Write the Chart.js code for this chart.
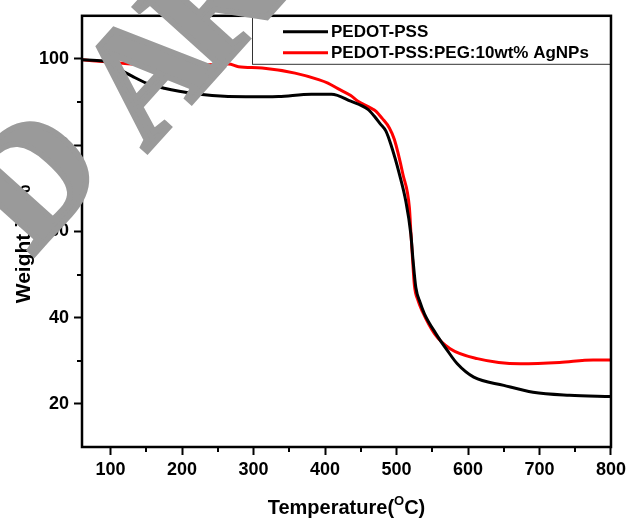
<!DOCTYPE html>
<html>
<head>
<meta charset="utf-8">
<script src="https://cdn.jsdelivr.net/npm/chart.js@4.4.0/dist/chart.umd.min.js"></script>
<style>
    html, body { margin: 0; padding: 0; background: #fff; }
</style>
</head>
<body>
<canvas id="myChart" width="630" height="522"></canvas>
<script>
// TGA curves
var pedotTemp = [60, 90, 113, 130, 150, 175, 196, 242, 289, 335, 381, 409, 436, 460, 469, 477, 485, 492, 504, 513, 520, 523, 527, 533, 539, 555, 571, 585, 608, 650, 691, 742, 800];
var pedotWeight = [99.8, 99.5, 97.5, 96, 94.4, 93.2, 92.5, 91.5, 91.2, 91.3, 91.8, 91.8, 90.2, 88.3, 86.7, 85, 83.3, 80.2, 73.3, 67, 59.4, 53.5, 47, 43.5, 40.9, 36.3, 32.4, 29.3, 26.2, 24.3, 22.7, 22, 21.7];

var agTemp = [60, 103, 150, 196, 233, 265, 279, 312, 358, 391, 404, 418, 436, 446, 464, 471, 480, 490, 497, 509, 518, 520, 522, 525, 530, 536, 553, 575, 613, 673, 728, 775, 800];
var agWeight = [99.8, 99.2, 98.6, 98.2, 98.6, 98.8, 98.2, 97.9, 96.7, 95.2, 94.4, 93.1, 91.5, 90.2, 88.6, 87.9, 86.2, 84, 81.3, 73.2, 65.5, 60, 54.7, 47.5, 44, 41.5, 36.3, 32.8, 30.5, 29.3, 29.6, 30.2, 30.2];

var seriesLabels = ['PEDOT-PSS', 'PEDOT-PSS:PEG:10wt% AgNPs'];
var seriesColors = ['#000000', '#ff0000'];

var xTicks = [100, 200, 300, 400, 500, 600, 700, 800];
var xMinorTicks = [150, 250, 350, 450, 550, 650, 750];
var yTicks = [20, 40, 60, 80, 100];
var yMinorTicks = [30, 50, 70, 90];

var xTitleParts = ['Temperature(', 'O', 'C)'];
var yTitle = 'Weight in %';
var watermarkLetters = ['D', 'A', 'R'];

function toPoints(xs, ys) {
    var pts = [];
    xs.forEach(function (x, i) {
        pts.push({ x: x, y: ys[i] });
    });
    return pts;
}

var sansFont = '"Liberation Sans", Arial, sans-serif';

var framePlugin = {
    id: 'frame',
    afterDatasetsDraw: function (chart) {
        var ctx = chart.ctx;
        var area = chart.chartArea;
        var xs = chart.scales.x;
        var ys = chart.scales.y;
        ctx.save();

        // minor ticks
        ctx.strokeStyle = '#000';
        ctx.lineWidth = 2;
        ctx.beginPath();
        xMinorTicks.forEach(function (v) {
            var px = Math.round(xs.getPixelForValue(v));
            ctx.moveTo(px, area.bottom);
            ctx.lineTo(px, area.bottom + 5);
        });
        yMinorTicks.forEach(function (v) {
            var py = Math.round(ys.getPixelForValue(v));
            ctx.moveTo(area.left, py);
            ctx.lineTo(area.left - 5, py);
        });
        ctx.stroke();

        // legend box
        var lx = 252, ly = area.top, lw = area.right - 252, lh = 48;
        ctx.fillStyle = '#fff';
        ctx.fillRect(lx, ly, lw, lh);
        ctx.lineWidth = 1;
        ctx.strokeStyle = '#333';
        ctx.strokeRect(lx + 0.5, ly + 0.5, lw, lh);
        ctx.font = 'bold 17px ' + sansFont;
        ctx.textAlign = 'left';
        ctx.textBaseline = 'middle';
        chart.data.datasets.forEach(function (ds, i) {
            var rowY = ly + 16 + i * 21;
            ctx.strokeStyle = ds.borderColor;
            ctx.lineWidth = 3;
            ctx.beginPath();
            ctx.moveTo(283, rowY);
            ctx.lineTo(328, rowY);
            ctx.stroke();
            ctx.fillStyle = '#000';
            ctx.fillText(ds.label, 331, rowY + 1);
        });

        // frame
        ctx.strokeStyle = '#000';
        ctx.lineWidth = 2.5;
        ctx.strokeRect(area.left, area.top, area.right - area.left, area.bottom - area.top);

        // axis titles
        ctx.fillStyle = '#000';
        ctx.font = 'bold 20px ' + sansFont;
        var w1 = ctx.measureText(xTitleParts[0]).width;
        var w3 = ctx.measureText(xTitleParts[2]).width;
        ctx.font = 'bold 13px ' + sansFont;
        var w2 = ctx.measureText(xTitleParts[1]).width;
        var startX = (area.left + area.right) / 2 - (w1 + w2 + w3) / 2;
        var baseY = 514;
        ctx.textBaseline = 'alphabetic';
        ctx.textAlign = 'left';
        ctx.font = 'bold 20px ' + sansFont;
        ctx.fillText(xTitleParts[0], startX, baseY);
        ctx.font = 'bold 13px ' + sansFont;
        ctx.fillText(xTitleParts[1], startX + w1, baseY - 9);
        ctx.font = 'bold 20px ' + sansFont;
        ctx.fillText(xTitleParts[2], startX + w1 + w2, baseY);

        ctx.save();
        ctx.translate(24, 244);
        ctx.rotate(-Math.PI / 2);
        ctx.font = 'bold 21px ' + sansFont;
        ctx.textAlign = 'center';
        ctx.textBaseline = 'middle';
        ctx.fillText(yTitle, 0, 0);
        ctx.restore();

        ctx.restore();
    },
    afterDraw: function (chart) {
        // grey watermark letters over everything
        var ctx = chart.ctx;
        var ang = -48 * Math.PI / 180;
        var spots = [[71, 213], [185, 109], [250, 36]];
        ctx.save();
        ctx.fillStyle = '#9a9a9a';
        ctx.strokeStyle = '#9a9a9a';
        ctx.lineWidth = 6;
        ctx.lineJoin = 'miter';
        ctx.font = 'bold 160px "Liberation Serif", "Times New Roman", serif';
        ctx.textAlign = 'center';
        ctx.textBaseline = 'alphabetic';
        watermarkLetters.forEach(function (ch, i) {
            ctx.save();
            ctx.translate(spots[i][0], spots[i][1]);
            ctx.rotate(ang);
            ctx.fillText(ch, 0, 0);
            ctx.strokeText(ch, 0, 0);
            ctx.restore();
        });
        ctx.restore();
    }
};

var ctx = document.getElementById('myChart').getContext('2d');
var myChart = new Chart(ctx, {
    type: 'line',
    data: {
        datasets: [{
            label: seriesLabels[0],
            data: toPoints(pedotTemp, pedotWeight),
            borderColor: seriesColors[0],
            borderWidth: 3,
            pointRadius: 0,
            cubicInterpolationMode: 'monotone',
            fill: false
        }, {
            label: seriesLabels[1],
            data: toPoints(agTemp, agWeight),
            borderColor: seriesColors[1],
            borderWidth: 3,
            pointRadius: 0,
            cubicInterpolationMode: 'monotone',
            fill: false
        }]
    },
    options: {
        responsive: false,
        animation: false,
        devicePixelRatio: 1,
        layout: {
            padding: { top: 14, right: 16, left: 0, bottom: 0 }
        },
        plugins: {
            legend: { display: false },
            tooltip: { enabled: false }
        },
        scales: {
            x: {
                type: 'linear',
                min: 60,
                max: 800,
                afterBuildTicks: function (axis) {
                    axis.ticks = xTicks.map(function (v) { return { value: v }; });
                },
                afterFit: function (axis) {
                    axis.height = 75;
                },
                border: { display: false },
                grid: {
                    drawOnChartArea: false,
                    drawTicks: true,
                    tickLength: 8,
                    tickWidth: 2,
                    color: '#000'
                },
                ticks: {
                    autoSkip: false,
                    maxRotation: 0,
                    padding: 4,
                    color: '#000',
                    font: { family: sansFont, weight: 'bold', size: 18 }
                }
            },
            y: {
                type: 'linear',
                min: 10,
                max: 110,
                afterBuildTicks: function (axis) {
                    axis.ticks = yTicks.map(function (v) { return { value: v }; });
                },
                afterFit: function (axis) {
                    axis.width = 82;
                },
                border: { display: false },
                grid: {
                    drawOnChartArea: false,
                    drawTicks: true,
                    tickLength: 8,
                    tickWidth: 2,
                    color: '#000'
                },
                ticks: {
                    autoSkip: false,
                    padding: 5,
                    color: '#000',
                    font: { family: sansFont, weight: 'bold', size: 18 }
                }
            }
        }
    },
    plugins: [framePlugin]
});
</script>
</body>
</html>
